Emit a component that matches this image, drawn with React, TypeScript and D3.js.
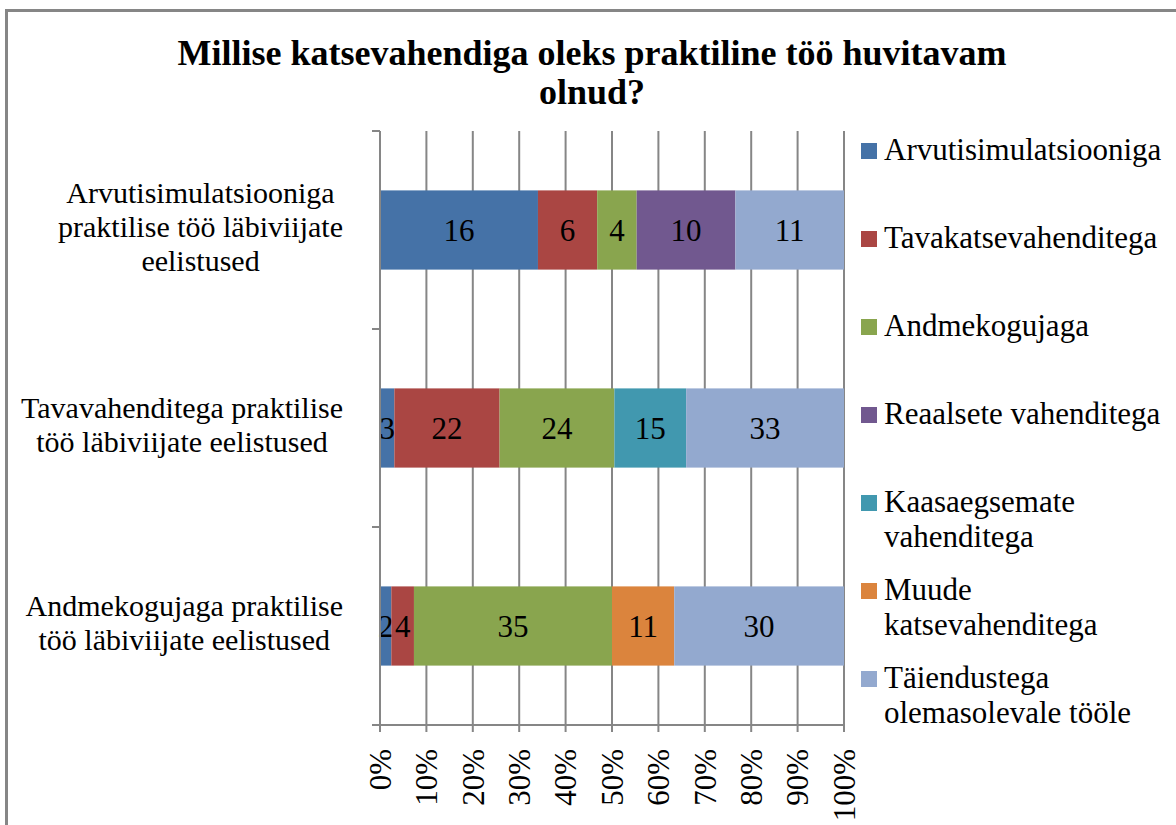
import React, { useEffect, useRef } from "react";
import * as d3 from "d3";

const titleLines = ["Millise katsevahendiga oleks praktiline töö huvitavam", "olnud?"];
const categories = [
  "Arvutisimulatsiooniga praktilise töö läbiviijate eelistused",
  "Tavavahenditega praktilise töö läbiviijate eelistused",
  "Andmekogujaga praktilise töö läbiviijate eelistused",
];
const categoryLines = [
  ["Arvutisimulatsiooniga", "praktilise töö läbiviijate", "eelistused"],
  ["Tavavahenditega praktilise", "töö läbiviijate eelistused"],
  ["Andmekogujaga praktilise", "töö läbiviijate eelistused"],
];
const seriesNames = [
  "Arvutisimulatsiooniga",
  "Tavakatsevahenditega",
  "Andmekogujaga",
  "Reaalsete vahenditega",
  "Kaasaegsemate vahenditega",
  "Muude katsevahenditega",
  "Täiendustega olemasolevale tööle",
];
const legendLines = [
  ["Arvutisimulatsiooniga"],
  ["Tavakatsevahenditega"],
  ["Andmekogujaga"],
  ["Reaalsete vahenditega"],
  ["Kaasaegsemate", "vahenditega"],
  ["Muude", "katsevahenditega"],
  ["Täiendustega", "olemasolevale tööle"],
];
const arvutisimulatsiooniga = [16, 3, 2];
const tavakatsevahenditega = [6, 22, 4];
const andmekogujaga = [4, 24, 35];
const reaalsete = [10, 0, 0];
const kaasaegsemate = [0, 15, 0];
const muude = [0, 0, 11];
const taiendustega = [11, 33, 30];
const seriesValues = [arvutisimulatsiooniga, tavakatsevahenditega, andmekogujaga, reaalsete, kaasaegsemate, muude, taiendustega];
const colors = ["#4572A7", "#AA4643", "#89A54E", "#71588F", "#4198AF", "#DB843D", "#93A9CF"];
const xTicks = [0, 0.1, 0.2, 0.3, 0.4, 0.5, 0.6, 0.7, 0.8, 0.9, 1.0];

export default function App() {
  const ref = useRef<SVGSVGElement>(null);
  useEffect(() => {
    const svg = d3.select(ref.current);
    svg.selectAll("*").remove();
    const font = "Liberation Serif";
    const fs = 31;
    const grid = "#868686";
    const left = 380, right = 844, top = 131, bottom = 725;

    // frame
    svg.append("path").attr("d", "M6.5,825 L6.5,10.5 L1176,10.5").attr("fill", "none").attr("stroke", grid).attr("stroke-width", 3);

    // title
    titleLines.forEach((t, i) => {
      svg.append("text").attr("x", 592).attr("y", 65 + i * 39).attr("text-anchor", "middle")
        .attr("font-family", font).attr("font-weight", "bold").attr("font-size", 36).text(t);
    });

    const x = d3.scaleLinear().domain([0, 1]).range([left, right]);
    const y = d3.scaleBand<string>().domain(categories).range([top, bottom]).paddingInner(0.6).paddingOuter(0.3);

    // gridlines
    svg.append("g").selectAll("line").data(xTicks.filter((t) => t > 0)).join("line")
      .attr("x1", (d) => x(d)).attr("x2", (d) => x(d)).attr("y1", top).attr("y2", bottom + 7)
      .attr("stroke", grid).attr("stroke-width", 2);
    svg.append("line").attr("x1", x(0)).attr("x2", x(0)).attr("y1", bottom).attr("y2", bottom + 7).attr("stroke", grid).attr("stroke-width", 2);

    // stacked data
    const totals = categories.map((_, ci) => d3.sum(seriesValues, (s) => s[ci]));
    const gBars = svg.append("g");
    categories.forEach((c, ci) => {
      let acc = 0;
      seriesValues.forEach((s, si) => {
        const v = s[ci];
        const x0 = acc / totals[ci];
        acc += v;
        const x1 = acc / totals[ci];
        if (v === 0) return;
        gBars.append("rect").attr("x", x(x0)).attr("y", y(c)!).attr("width", x(x1) - x(x0)).attr("height", y.bandwidth())
          .attr("fill", colors[si]);
        gBars.append("text").attr("x", (x(x0) + x(x1)) / 2).attr("y", y(c)! + y.bandwidth() / 2 + 11)
          .attr("text-anchor", "middle").attr("font-family", font).attr("font-size", fs).attr("fill", "#000").text(String(v));
      });
    });

    // axes
    svg.append("line").attr("x1", left).attr("x2", left).attr("y1", top).attr("y2", bottom).attr("stroke", grid).attr("stroke-width", 2);
    svg.append("line").attr("x1", left - 8).attr("x2", right + 1).attr("y1", bottom).attr("y2", bottom).attr("stroke", grid).attr("stroke-width", 2);
    const step = y.step();
    [0, 1, 2].forEach((i) => {
      const yy = top + i * step;
      svg.append("line").attr("x1", left - 8).attr("x2", left).attr("y1", yy).attr("y2", yy).attr("stroke", grid).attr("stroke-width", 2);
    });

    // x tick labels
    xTicks.forEach((t) => {
      svg.append("text").attr("transform", `translate(${x(t)},749) rotate(-90)`).attr("dy", "0.35em")
        .attr("text-anchor", "end").attr("font-family", font).attr("font-size", fs).text(d3.format(".0%")(t));
    });

    // category labels
    categories.forEach((c, ci) => {
      const lines = categoryLines[ci];
      const g = svg.append("g");
      const cy = y(c)! + y.bandwidth() / 2;
      const texts = lines.map((l, li) =>
        g.append("text").attr("y", cy + 7 + (li - (lines.length - 1) / 2) * 34).attr("text-anchor", "middle")
          .attr("font-family", font).attr("font-size", 30).text(l)
      );
      const maxW = d3.max(texts, (t) => (t.node() as SVGTextElement).getComputedTextLength()) || 0;
      texts.forEach((t) => t.attr("x", 343 - maxW / 2));
    });

    // legend
    legendLines.forEach((lines, i) => {
      const by = 160 + i * 88;
      svg.append("rect").attr("x", 861).attr("y", by - 17).attr("width", 16).attr("height", 16).attr("fill", colors[i]);
      lines.forEach((l, li) => {
        svg.append("text").attr("x", 884).attr("y", by + li * 35).attr("font-family", font).attr("font-size", fs).text(l);
      });
    });
  }, []);
  return (
    <svg ref={ref} width={1176} height={825} style={{ position: "absolute", left: 0, top: 0, background: "#fff" }} />
  );
}
